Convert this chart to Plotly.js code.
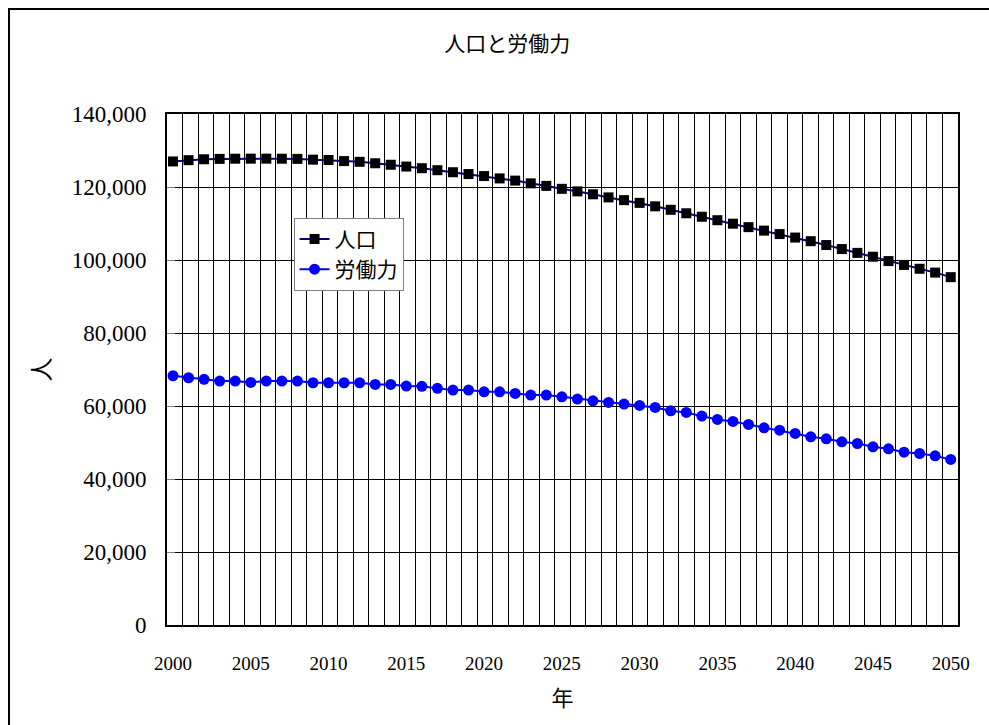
<!DOCTYPE html>
<html>
<head>
<meta charset="utf-8">
<script src="https://cdn.plot.ly/plotly-3.0.1.min.js"></script>
<style>
  html, body { margin: 0; padding: 0; background: #fff; overflow: hidden; }
  #chart { position: absolute; left: 0; top: 0; width: 989px; height: 725px; }
  #frame { position: absolute; left: 8px; top: 8px; width: 1000px; height: 740px;
           border: 2px solid #000; pointer-events: none; box-sizing: border-box; }
</style>
</head>
<body>
<div id="chart"></div>
<div id="frame"></div>
<script>
const years = [];
for (let y = 2000; y <= 2050; y++) years.push(y);

const populationName = '人口';
const laborName = '労働力';

const population = [
  127000, 127350, 127600, 127700, 127750, 127770, 127770, 127750, 127700, 127500,
  127400, 127100, 126900, 126500, 126100, 125600, 125150, 124600, 124050, 123550,
  123000, 122350, 121750, 121000, 120300, 119500, 118800, 118000, 117150, 116400,
  115650, 114700, 113750, 112800, 111850, 110900, 109950, 109000, 108050, 107100,
  106150, 105150, 104100, 103000, 101950, 100900, 99700, 98650, 97600, 96550,
  95300
];

const labor = [
  68290, 67740, 67300, 66830, 66830, 66470, 66830, 66830, 66830, 66370,
  66370, 66370, 66370, 65920, 65920, 65460, 65400, 64830, 64360, 64360,
  63900, 63900, 63450, 62990, 62990, 62530, 61890, 61430, 60990, 60520,
  60160, 59610, 58680, 58240, 57230, 56320, 55770, 54950, 54020, 53390,
  52480, 51550, 51000, 50180, 49730, 48810, 48260, 47350, 46990, 46340,
  45350
];

const xTickVals = [2000, 2005, 2010, 2015, 2020, 2025, 2030, 2035, 2040, 2045, 2050];
const xTickText = ['2000', '2005', '2010', '2015', '2020', '2025', '2030', '2035', '2040', '2045', '2050'];
const yTickVals = [0, 20000, 40000, 60000, 80000, 100000, 120000, 140000];
const yTickText = ['0', '20,000', '40,000', '60,000', '80,000', '100,000', '120,000', '140,000'];

const xRange = [1999.615, 2050.469];
const cellCount = 51;
const gridStep = (xRange[1] - xRange[0]) / cellCount;

const cjk = '"Noto Sans CJK JP", "Noto Sans CJK SC", sans-serif';
const serif = '"Liberation Serif", "Times New Roman", serif';

const traces = [
  {
    x: years, y: population, name: populationName, type: 'scatter', mode: 'lines+markers',
    line: { color: '#000080', width: 2 },
    marker: { symbol: 'square', size: 10, color: '#000000', line: { width: 0 } },
    hoverinfo: 'x+y'
  },
  {
    x: years, y: labor, name: laborName, type: 'scatter', mode: 'lines+markers',
    line: { color: '#0000FF', width: 2 },
    marker: { symbol: 'circle', size: 11, color: '#0000FF', line: { width: 0 } },
    hoverinfo: 'x+y'
  },
  {
    x: [years[0]], y: [null], xaxis: 'x2', yaxis: 'y', type: 'scatter', mode: 'markers',
    showlegend: false, hoverinfo: 'skip'
  }
];

const layout = {
  width: 989, height: 725,
  margin: { l: 167, r: 31, t: 114, b: 100, pad: 0 },
  paper_bgcolor: '#ffffff', plot_bgcolor: '#ffffff',
  showlegend: true,
  title: {
    text: '人口と労働力', xref: 'container', x: 0.513, xanchor: 'center',
    yref: 'container', y: 0.94, yanchor: 'middle',
    font: { family: cjk, size: 21, color: '#000' }
  },
  xaxis: {
    range: xRange, showgrid: true, gridcolor: '#000000', gridwidth: 1,
    tickmode: 'linear', tick0: xRange[0], dtick: gridStep,
    showticklabels: false, ticks: '', zeroline: false,
    showline: true, linecolor: '#000', linewidth: 2, mirror: true
  },
  xaxis2: {
    overlaying: 'x', anchor: 'y', side: 'bottom', range: xRange,
    showgrid: false, zeroline: false, showline: false,
    tickmode: 'array', tickvals: xTickVals, ticktext: xTickText,
    ticks: '', ticklabelstandoff: 25,
    tickfont: { family: serif, size: 19, color: '#000' },
    title: { text: '年', font: { family: cjk, size: 22, color: '#000' }, standoff: 17 }
  },
  yaxis: {
    range: [0, 140000], tickmode: 'array', tickvals: yTickVals, ticktext: yTickText,
    showgrid: true, gridcolor: '#000000', gridwidth: 1, zeroline: false,
    showline: true, linecolor: '#000', linewidth: 2, mirror: true,
    ticks: 'inside', ticklen: 8, tickcolor: '#808080', ticklabelstandoff: 14,
    tickfont: { family: serif, size: 23, color: '#000' },
    title: { text: '人', font: { family: cjk, size: 24, color: '#000' }, standoff: 14 }
  },
  legend: {
    x: 0.16, y: 0.797, xanchor: 'left', yanchor: 'top',
    bgcolor: '#ffffff', bordercolor: '#808080', borderwidth: 1,
    font: { family: cjk, size: 21, color: '#000' },
    tracegroupgap: 0
  }
};

Plotly.newPlot('chart', traces, layout, { displayModeBar: false, staticPlot: true });
</script>
</body>
</html>
